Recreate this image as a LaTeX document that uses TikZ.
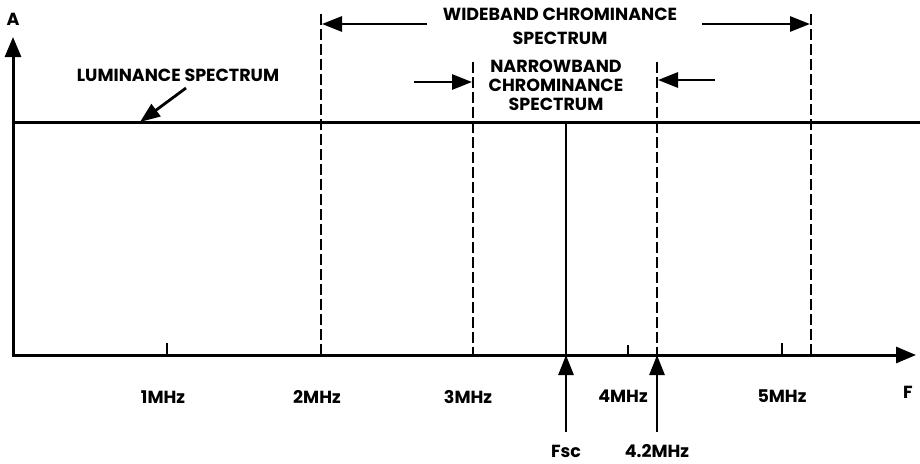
\documentclass[tikz,border=0pt]{standalone}
\usepackage{fontspec}
\setmainfont{Poppins}
\usetikzlibrary{arrows.meta}
\begin{document}
\begin{tikzpicture}[x=1pt,y=-1pt,
  lbl/.style={font=\bfseries\fontsize{17.5}{19}\selectfont, inner sep=0pt, align=center},
  axis/.style={line width=3pt, -{Triangle[length=20pt,width=16pt]}},
  bigarrow/.style={line width=2.8pt, -{Triangle[length=20pt,width=15pt]}},
  dashline/.style={line width=2.6pt, dash pattern=on 11pt off 4pt},
  tick/.style={line width=2.2pt}]
\useasboundingbox (0,0) rectangle (920,463);
% axes
\coordinate (O) at (13,355);
\coordinate (Atip) at (13,37);
\coordinate (Ftip) at (916,355);
\draw[axis] (O) -- (Atip);
\draw[axis] ([xshift=-1.5pt]O) -- (Ftip);
\node[lbl] (A) at (13,19) {A};
\node[lbl] (F) at (908,392) {F};
% luminance line
\coordinate (L0) at (13,122);
\coordinate (L1) at (920,122);
\draw[line width=3pt] (L0) -- (L1);
\node[lbl] (lum) at (178,75) {LUMINANCE SPECTRUM};
\coordinate (lumtip) at (140,122);
\draw[bigarrow] (186,88) -- (lumtip);
% ticks
\draw[tick] (167,355) -- (167,343);
\draw[tick] (628,355) -- (628,345);
\draw[tick] (782,355) -- (782,343);
% dashed lines
\coordinate (d2top) at (321,14);
\coordinate (d2bot) at (321,355);
\coordinate (d3top) at (473,62);
\coordinate (d3bot) at (473,355);
\coordinate (d42top) at (657,62);
\coordinate (d42bot) at (657,355);
\coordinate (d5top) at (811,14);
\coordinate (d5bot) at (811,355);
\draw[dashline] (d2top) -- (d2bot);
\draw[dashline] (d3top) -- (d3bot);
\draw[dashline] (d42top) -- (d42bot);
\draw[dashline] (d5top) -- (d5bot);
% Fsc line
\coordinate (fscT) at (566,122);
\coordinate (fscB) at (566,355);
\draw[line width=2.8pt] (fscT) -- (fscB);
% wideband
\node[lbl, font=\bfseries\fontsize{17.5}{24}\selectfont] (wide) at (560,26) {WIDEBAND CHROMINANCE\\SPECTRUM};
\draw[bigarrow] (427,24) -- (322,24);
\draw[bigarrow] (702,24) -- (810,24);
% narrowband
\node[lbl] (narrow) at (556,85) {NARROWBAND\\CHROMINANCE\\SPECTRUM};
\draw[bigarrow] (414,82) -- (472,82);
\draw[bigarrow] (715,80) -- (658,80);
% axis labels
\node[lbl] (m1) at (163,397) {1MHz};
\node[lbl] (m2) at (317,397) {2MHz};
\node[lbl] (m3) at (468,397) {3MHz};
\node[lbl] (m4) at (623,396) {4MHz};
\node[lbl] (m5) at (782,396) {5MHz};
% bottom arrows
\draw[bigarrow] (566,432) -- (fscB);
\draw[bigarrow] (657,432) -- (d42bot);
\node[lbl] (fsc) at (566,451) {Fsc};
\node[lbl] (f42) at (657,451) {4.2MHz};
\end{tikzpicture}
\end{document}
